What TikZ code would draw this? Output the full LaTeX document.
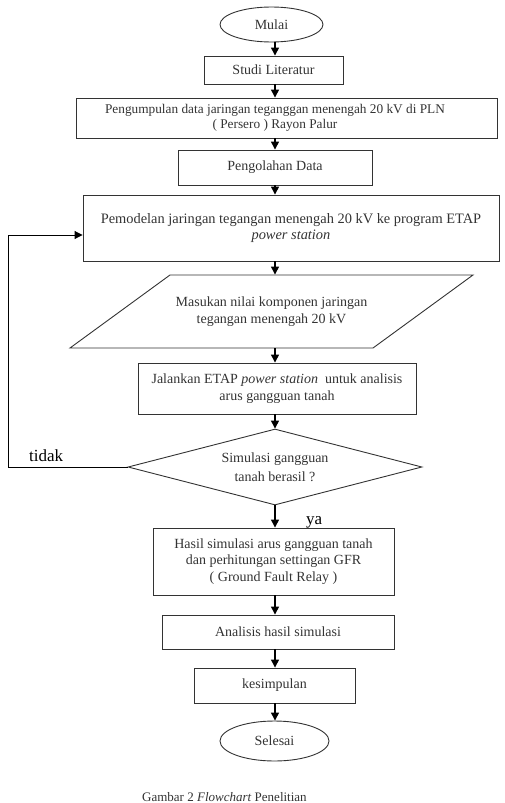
\documentclass[tikz,border=0pt]{standalone}
\usepackage{fontspec}
\setmainfont{Liberation Serif}
\usetikzlibrary{shapes.geometric,arrows.meta}
\definecolor{ink}{HTML}{333333}
\tikzset{
  box/.style={draw=ink, line width=0.9pt, text=ink, inner sep=0pt, align=center,
    font=\fontsize{14}{16.5}\selectfont},
  term/.style={box, ellipse},
  plain/.style={text=ink, inner sep=0pt, align=center},
  arr/.style={draw=black, line width=1.3pt, -{Triangle[length=8pt,width=8pt]}},
  lbl/.style={font=\fontsize{17}{17}\selectfont, text=black, inner sep=0pt}
}
\begin{document}
\begin{tikzpicture}[x=1pt,y=-1pt]
\useasboundingbox (0,0) rectangle (504,803);
\clip (0,0) rectangle (504,803);
\coordinate (ax) at (275,0);
\node[term, minimum width=103pt, minimum height=35pt] (mulai) at (271.5,24.5) {Mulai};
\node[box, minimum width=139pt, minimum height=28pt] (studi) at (273.5,70) {Studi Literatur};
\node[box, minimum width=421pt, minimum height=40pt] (kumpul) at (286.5,118) {};
\node[plain, font=\fontsize{13.3}{15.5}\selectfont] (kumpultxt) at (275,118)
  {Pengumpulan data jaringan teganggan menengah 20 kV di PLN\\( Persero ) Rayon Palur};
\node[box, minimum width=194pt, minimum height=35pt] (olah) at (275,167.5) {Pengolahan Data};
\node[box, minimum width=416pt, minimum height=66pt, font=\fontsize{14.4}{16.5}\selectfont] (model) at (291,228)
  {Pemodelan jaringan tegangan menengah 20 kV ke program ETAP\\\textit{power station}};
\draw[draw=ink, line width=0.9pt] (170,275) -- (473,275) -- (373,348) -- (70,348) -- cycle;
\node[box, draw=none, minimum width=203pt, minimum height=73pt] (masuk) at (271.5,311.5)
  {Masukan nilai komponen jaringan\\tegangan menengah 20 kV};
\node[box, minimum width=278pt, minimum height=51pt] (jalan) at (277,388.5)
  {Jalankan ETAP \textit{power station}\ \ untuk analisis\\arus gangguan tanah};
\node[box, diamond, minimum width=294pt, minimum height=76pt, aspect=3.87,
  font=\fontsize{14}{19}\selectfont] (sim) at (275,467) {Simulasi gangguan\\tanah berasil ?};
\node[box, minimum width=241pt, minimum height=67pt] (hasil) at (273.5,561.5)
  {Hasil simulasi arus gangguan tanah\\dan perhitungan settingan GFR\\( Ground Fault Relay )};
\node[box, minimum width=232pt, minimum height=34pt] (anal) at (278,632) {Analisis hasil simulasi};
\node[box, minimum width=161pt, minimum height=35pt] (simp) at (274.5,685.5) {kesimpulan};
\node[term, minimum width=109pt, minimum height=40pt] (selesai) at (274.5,741) {Selesai};
\coordinate (loopA) at (8,467);
\coordinate (loopB) at (8,235);
\draw[arr] (mulai.south -| ax) -- (studi.north -| ax);
\draw[arr] (studi.south -| ax) -- (kumpul.north -| ax);
\draw[arr] (kumpul.south -| ax) -- (olah.north -| ax);
\draw[arr] (olah.south -| ax) -- (model.north -| ax);
\draw[arr] (model.south -| ax) -- (masuk.north -| ax);
\draw[arr] (masuk.south -| ax) -- (jalan.north -| ax);
\draw[arr] (jalan.south -| ax) -- (sim.north);
\draw[arr] (sim.south) -- (hasil.north -| ax);
\draw[arr] (hasil.south -| ax) -- (anal.north -| ax);
\draw[arr] (anal.south -| ax) -- (simp.north -| ax);
\draw[arr] (simp.south -| ax) -- (selesai.north -| ax);
\draw[arr, line width=1pt] (sim.west) -- (loopA) -- (loopB) -- (loopB -| model.west);
\node[lbl, anchor=base west] (tidak) at (29,461) {tidak};
\node[lbl, anchor=base west] (ya) at (306,524) {ya};
\node[anchor=base west, inner sep=0pt, text=ink, font=\fontsize{13}{13}\selectfont] (cap) at (142,801.5)
  {Gambar 2 \textit{Flowchart} Penelitian};
\end{tikzpicture}
\end{document}
